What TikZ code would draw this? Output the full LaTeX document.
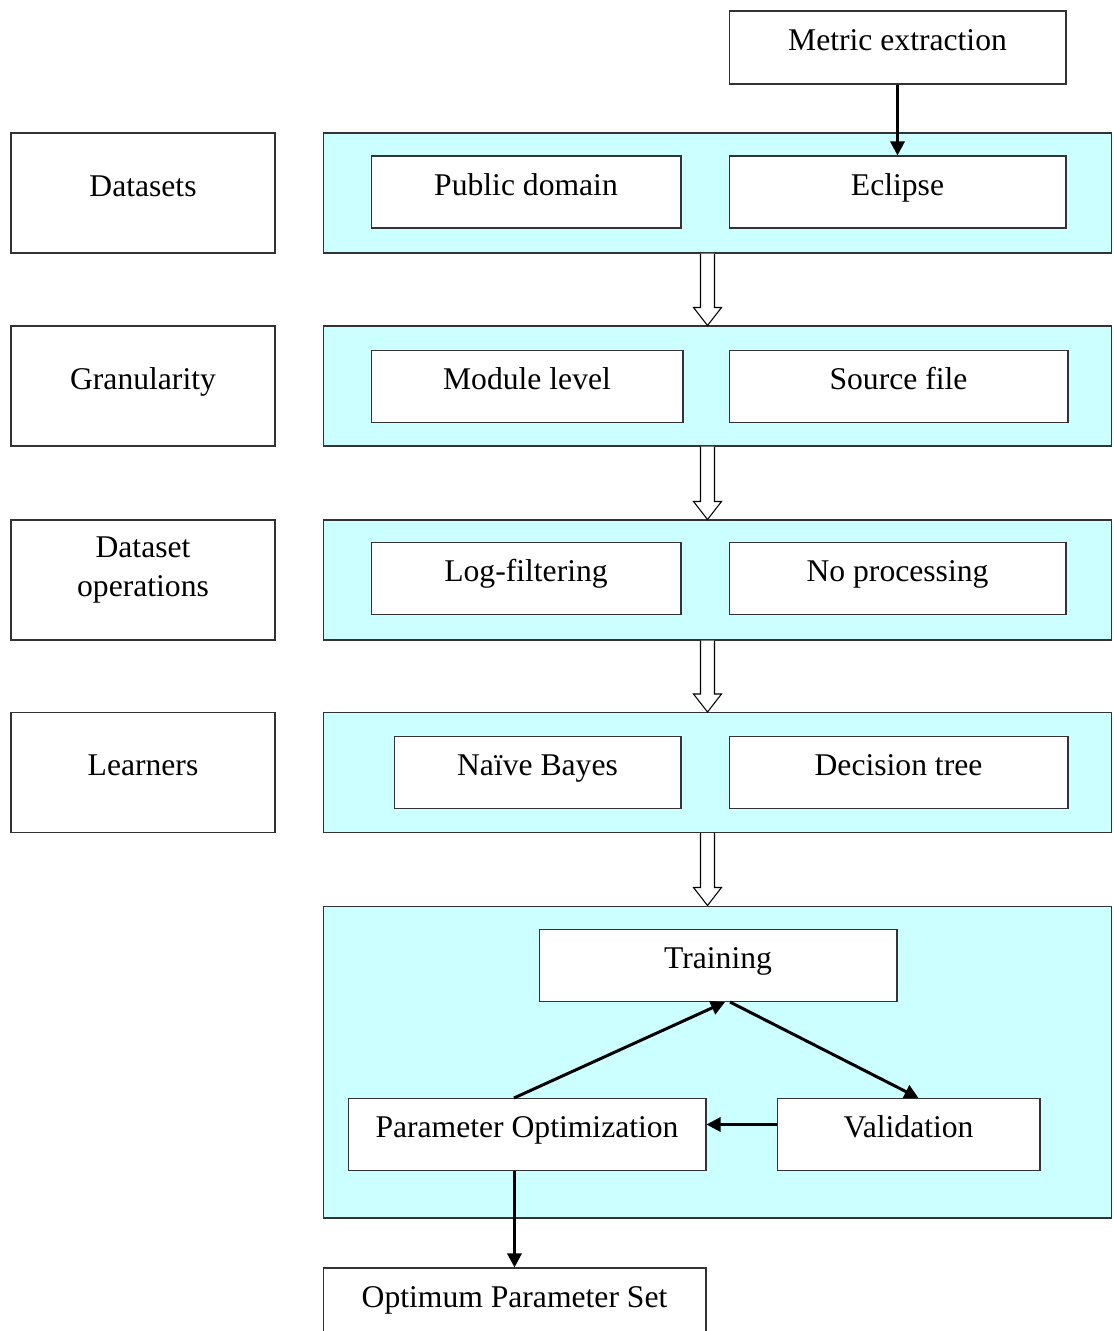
\documentclass[tikz,border=0pt]{standalone}
\usepackage{fontspec}
\setmainfont{Liberation Serif}
\usetikzlibrary{arrows.meta,calc,positioning}
\definecolor{panelcyan}{HTML}{CCFFFF}
\tikzset{>={Triangle[length=8pt,width=8pt]}}
\tikzset{
  box/.style={draw=black!80, line width=0.6pt, fill=white, inner sep=0pt,
    minimum height=1.44cm, text height=12.5pt, text depth=9pt,
    font=\fontsize{18}{22}\selectfont},
  sidebox/.style={box, minimum width=5.28cm, minimum height=2.4cm},
  panel/.style={draw=black!80, line width=0.6pt, fill=panelcyan,
    minimum width=15.78cm, minimum height=2.4cm, inner sep=0pt},
  flow/.style={->, line width=1.7pt},
}
% open arrow between two stages
\newcommand{\hollowarrow}[2]{%
  \draw[line width=0.6pt, fill=white] ($(#1.south)+(-17,0)$) -- ($(#2.north)+(-17,-18)$)
    -- ($(#2.north)+(-24,-18)$) -- ($(#2.north)+(-10,0)$) -- ($(#2.north)+(4,-18)$)
    -- ($(#2.north)+(-3,-18)$) -- ($(#1.south)+(-3,0)$);}

\begin{document}
\begin{tikzpicture}[x=0.02cm, y=-0.02cm]
  \useasboundingbox (0,0) rectangle (1113,1331);
  \clip (0,0) rectangle (1113,1331);
  % stage panels
  \node[panel] (pdata) at (717.5,193) {};
  \node[panel] (pgran) at (717.5,386) {};
  \node[panel] (pops) at (717.5,580) {};
  \node[panel] (plearn) at (717.5,772.5) {};
  \node[panel, minimum height=6.24cm] (ptrain) at (717.5,1062) {};
  % row labels
  \node[sidebox] (datasets) at (143,193) {Datasets};
  \node[sidebox] (granularity) at (143,386) {Granularity};
  \node[sidebox, align=center, text height=, text depth=15pt] (operations) at (143,580) {Dataset\\operations};
  \node[sidebox] (learners) at (143,772.5) {Learners};
  % options
  \node[box, minimum width=6.74cm, minimum height=1.46cm] (metric) at (897.5,47.5) {Metric extraction};
  \node[box, minimum width=6.2cm] (public) at (526,192) {Public domain};
  \node[box, minimum width=6.74cm] (eclipse) at (897.5,192) {Eclipse};
  \node[box, minimum width=6.24cm] (module) at (527,386.5) {Module level};
  \node[box, minimum width=6.78cm] (source) at (898.5,386.5) {Source file};
  \node[box, minimum width=6.2cm] (logfilter) at (526,578.5) {Log-filtering};
  \node[box, minimum width=6.74cm] (noproc) at (897.5,578.5) {No processing};
  \node[box, minimum width=5.74cm] (bayes) at (537.5,772.5) {Naïve Bayes};
  \node[box, minimum width=6.78cm] (tree) at (898.5,772.5) {Decision tree};
  \node[box, minimum width=7.16cm] (training) at (718,965.5) {Training};
  \node[box, minimum width=7.16cm] (paramopt) at (527,1134.5) {Parameter Optimization};
  \node[box, minimum width=5.26cm] (validation) at (908.5,1134.5) {Validation};
  \node[box, minimum width=7.66cm] (optimum) at (514.5,1304) {Optimum Parameter Set};
  % stage arrows
  \hollowarrow{pdata}{pgran}
  \hollowarrow{pgran}{pops}
  \hollowarrow{pops}{plearn}
  \hollowarrow{plearn}{ptrain}
  % flow arrows
  \draw[flow] (metric.south) -- (eclipse.north);
  \draw[flow] ($(paramopt.north)+(-13,0)$) -- ($(training.south)+(7,0)$);
  \draw[flow] ($(training.south)+(12,0)$) -- ($(validation.north)+(10,0)$);
  \draw[flow] ($(validation.west)+(0,-10)$) -- ($(paramopt.east)+(0,-10)$);
  \draw[flow] (optimum.north |- paramopt.south) -- (optimum.north);
\end{tikzpicture}
\end{document}
